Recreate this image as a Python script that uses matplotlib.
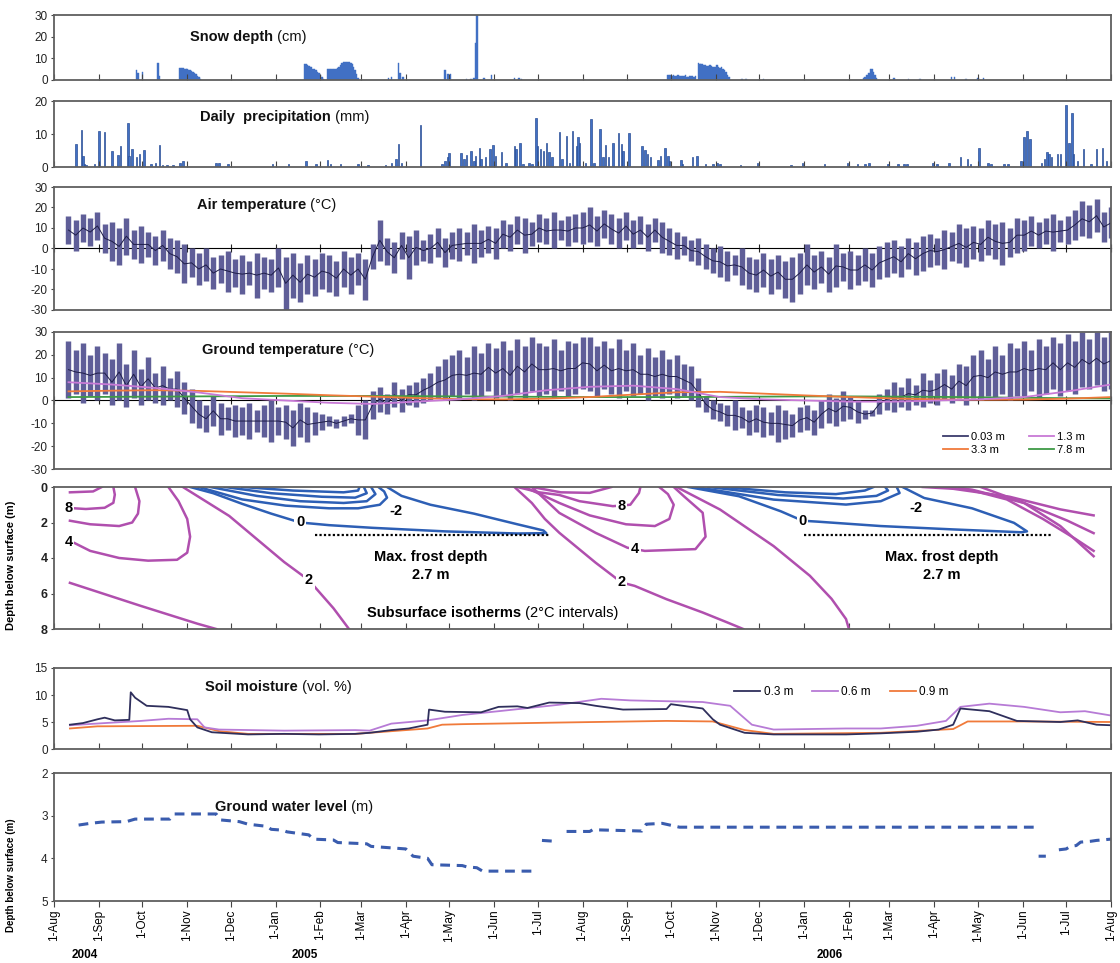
import datetime as dt
import numpy as np
import matplotlib
matplotlib.use("Agg")
import matplotlib.pyplot as plt
import matplotlib.dates as mdates
from matplotlib.lines import Line2D
from matplotlib.ticker import FixedLocator, FuncFormatter, NullFormatter

plt.rcParams['font.family'] = ['Liberation Sans', 'DejaVu Sans']
plt.rcParams['axes.unicode_minus'] = False

# all series are given as day offsets from 1-Aug-2004
# snow depth (cm): single days and short continuous blocks
snow_single = [(57, 4.7), (58, 3), (61, 3.5), (72, 8), (73, 2), (231, 0.8), (233, 1.2),
               (238, 8), (239, 3), (241, 1.2), (270, 4.5), (272, 2.8), (274, 2.8),
               (285, 0.5), (288, 0.6), (290, 0.8), (291, 17), (292, 30), (297, 1),
               (302, 2.5), (318, 0.8), (321, 0.8), (323, 0.6), (475, 0.6), (478, 0.5),
               (490, 0.5), (580, 1), (590, 0.6), (598, 0.5), (608, 0.6), (620, 1.5),
               (622, 1.2), (630, 0.6), (638, 0.8), (642, 0.8)]
snow_blocks = [
    (87, [5.5, 5.5, 5.4, 5.3, 5.2, 5, 4.8, 4.5, 4.2, 3.8, 3.3, 2.7, 2, 1.2, 0.5]),
    (173, [7.5, 7.3, 7, 6.6, 6.2, 5.8, 5.3, 4.9, 4.4, 3.9, 3.2, 2.4, 1.5, 0.6]),
    (189, [5, 5, 5, 5, 5, 5.1, 5.3, 5.6, 6.2, 7, 7.8, 8.3, 8.5, 8.5, 8.5, 8.4, 8, 7.2,
           6, 4.5, 2.8, 1]),
    (424, [2.3, 2.5, 2.2, 2, 2.1, 1.8, 2, 2.2, 1.9, 1.7, 2, 1.8, 2.1, 1.6, 1.5, 1.8, 2,
           1.7, 1.5, 2]),
    (445, [8, 7.5, 7.2, 7.3, 7, 6.8, 6.5, 6.5, 7, 6.3, 6, 6, 6.2, 6.8, 6, 5.5, 5.8, 5.2,
           4.5, 3.5, 2.5, 1.2]),
    (559, [1, 1.5, 2.5, 2.2, 3, 5, 5.2, 3.5, 2.5, 1]),
]

# daily precipitation (mm)
precip = [(15, 7), (19, 11.2), (20, 3.4), (21, 0.8), (22, 0.5), (28, 0.8), (31, 11),
          (35, 10.7), (40, 4.9), (44, 3.5), (46, 6.5), (51, 13.4), (52, 3.4), (54, 5.4),
          (57, 2.9), (59, 3.9), (62, 5.1), (67, 0.8), (70, 1.3), (73, 6.6), (75, 0.5),
          (78, 0.5), (82, 0.5), (87, 1.3), (89, 1.8), (112, 1.1), (114, 1.1), (120, 0.8),
          (151, 0.8), (162, 0.8), (174, 1.8), (181, 0.8), (189, 2), (191, 0.8), (198, 0.8),
          (210, 0.8), (217, 0.5), (229, 0.5), (233, 1.3), (236, 2.3), (238, 7), (240, 1.3),
          (253, 12.8), (268, 0.8), (270, 1.8), (272, 2.9), (273, 4.2), (281, 4.1),
          (283, 2.3), (285, 3.6), (288, 4.9), (290, 1.8), (291, 3.4), (294, 5.9),
          (295, 2.3), (298, 2.9), (301, 5.4), (303, 6.6), (305, 3.4), (309, 4.4),
          (312, 1.3), (318, 6.4), (319, 5.4), (322, 7.2), (324, 0.8), (328, 1.3),
          (330, 0.8), (333, 14.8), (334, 6.4), (336, 5.4), (338, 4.9), (340, 7.2),
          (342, 4.4), (344, 2.9), (349, 10.5), (351, 2.3), (354, 9.3), (356, 1.3),
          (358, 11), (361, 6.4), (362, 9), (363, 7.4), (367, 1.3), (371, 14.4), (373, 1.3),
          (377, 11.5), (379, 2.9), (381, 6.7), (383, 2.9), (386, 7.4), (390, 10.2),
          (392, 6.9), (393, 4.9), (397, 10.2), (406, 6.4), (408, 5.2), (410, 3.9),
          (412, 2.9), (417, 2.1), (419, 3.4), (422, 5.9), (424, 3.4), (425, 1.8), (433, 2),
          (434, 0.8), (441, 2.9), (444, 3.2), (450, 0.8), (455, 0.8), (458, 1.3),
          (460, 0.8), (474, 0.5), (486, 1.3), (509, 0.5), (517, 1.3), (532, 0.8),
          (548, 1.3), (555, 0.8), (560, 0.8), (563, 1.3), (576, 1), (583, 0.8), (587, 1),
          (589, 1), (607, 1.3), (610, 1), (618, 1.3), (626, 2.9), (631, 2.3), (633, 1),
          (639, 5.7), (645, 1.3), (647, 1), (656, 0.8), (659, 0.8), (668, 1.8), (670, 9),
          (672, 11), (674, 8.5), (682, 1.3), (684, 2.3), (686, 4.4), (687, 3.9),
          (689, 2.9), (693, 3.9), (695, 3.9), (699, 18.7), (701, 7.2), (703, 16.4),
          (704, 3.9), (707, 1.8), (711, 5.6), (716, 0.8), (720, 5.6), (724, 5.9),
          (727, 1.8)]

# temperatures every 5 days from day 10 to day 730: daily max / min
temp_day = list(range(10, 731, 5))
air_hi = [16, 14, 17, 15, 18, 12, 13, 10, 15, 9, 11, 8, 6, 9, 5, 4, 2, 0,
          -2, 0, -4, -3, -1, -5, -3, -6, -2, -4, -5, 0, -4, -2, -7, -3, -5, -2,
          -3, -6, -1, -4, -2, -5, 2, 14, 5, 3, 8, 6, 9, 4, 7, 10, 5, 8,
          10, 8, 12, 9, 11, 10, 14, 12, 16, 15, 13, 17, 15, 18, 14, 16, 17, 18,
          20, 16, 19, 17, 15, 18, 14, 16, 12, 15, 13, 10, 8, 6, 4, 5, 2, 0,
          1, -1, -3, 0, -4, -5, -2, -5, -3, -6, -4, -2, 2, -3, -1, -4, 2, -2,
          -1, -3, 0, -2, 1, 3, 4, 1, 5, 3, 6, 7, 5, 9, 8, 12, 10, 11,
          10, 14, 12, 13, 10, 15, 14, 16, 13, 15, 17, 14, 16, 19, 23, 21, 24, 18, 20]
air_lo = [2, -1, 3, 1, 4, -2, -6, -8, -3, -5, -7, -4, -8, -6, -10, -12, -17, -14,
          -18, -16, -20, -17, -21, -19, -22, -18, -24, -20, -21, -19, -30, -24, -26, -22, -23, -20,
          -21, -23, -19, -22, -18, -25, -10, -6, -8, -12, -5, -15, -8, -6, -7, -4, -9, -5,
          -6, -3, -7, -4, -2, -5, 0, -1, 2, -2, 1, 3, 2, 0, 4, 1, 3, 2,
          3, 1, 5, 2, 0, 4, 0, 2, -1, 3, -2, -3, -5, -3, -6, -8, -10, -12,
          -14, -16, -13, -18, -20, -21, -19, -22, -20, -24, -26, -22, -18, -20, -17, -21, -19, -16,
          -20, -18, -16, -19, -15, -14, -12, -14, -10, -13, -11, -9, -8, -10, -6, -7, -9, -5,
          -6, -3, -5, -8, -4, -2, -1, 1, 0, 2, -1, 3, 2, 4, 6, 5, 8, 3, 5]
ground_hi = [26, 22, 25, 20, 24, 21, 18, 25, 16, 22, 14, 19, 12, 15, 10, 13, 8, 5,
             0, -2, 2, -1, -3, -2, -3, -1, -4, -2, 0, -3, -2, -4, -1, -3, -5, -6,
             -7, -8, -7, -6, -2, 0, 4, 6, 3, 8, 5, 7, 8, 10, 12, 15, 18, 20,
             22, 19, 24, 21, 25, 23, 26, 22, 27, 24, 28, 25, 24, 27, 22, 26, 25, 28,
             28, 24, 26, 23, 27, 22, 25, 20, 23, 19, 22, 18, 20, 16, 15, 10, 2, 0,
             -1, -2, 0, -3, -4, -2, -3, -5, -2, -4, -6, -3, -2, -4, 0, 3, 1, 4,
             2, 0, -4, -4, 3, 5, 8, 6, 10, 7, 12, 9, 12, 14, 11, 16, 15, 20,
             22, 18, 24, 20, 25, 23, 26, 22, 27, 24, 28, 25, 29, 26, 30, 27, 30, 28, 30]
ground_lo = [1, 3, -1, 2, 0, 3, -2, 0, -3, 1, -2, 0, -1, -2, 0, -3, -6, -10,
             -12, -14, -11, -15, -13, -16, -15, -17, -14, -16, -18, -15, -17, -20, -16, -18, -15, -13,
             -11, -12, -11, -10, -15, -17, -8, -5, -6, -3, -5, -2, -3, -1, 0, 1, 0, 2,
             1, 3, 0, 2, 4, 1, 2, 0, 3, 1, 4, 2, 3, 1, 4, 2, 3, 5,
             4, 2, 5, 3, 1, 4, 2, 3, 0, 2, 1, 3, 1, 2, 0, -3, -5, -8,
             -9, -11, -13, -12, -15, -14, -16, -15, -18, -17, -16, -14, -13, -15, -12, -10, -11, -9,
             -8, -10, -8, -7, -6, -4, -5, -3, -4, -2, -3, -1, -2, 0, -1, 1, -2, 1,
             0, 2, 1, 3, 0, 2, 2, 4, 1, 3, 5, 2, 4, 3, 6, 5, 7, 4, 5]

# deeper ground temperatures, monthly readings
deep_day = [10, 40, 70, 100, 130, 160, 190, 220, 250, 280, 310, 340, 370, 400, 430,
            460, 490, 520, 550, 580, 610, 640, 670, 700, 730]
t_1_3 = [8, 7, 5.5, 3.5, 1, 0, -1, -1.5, -0.5, 0.5, 2, 4.5, 6, 6.5, 5, 1.5, 0.5, 0,
         -0.5, -0.5, 0, 0.5, 1.5, 4, 7]
t_3_3 = [4, 4.3, 4.5, 4.2, 3.6, 3, 2.3, 1.7, 1.1, 0.6, 0.5, 0.8, 1.5, 2.6, 3.6, 3.8,
         3, 2.2, 1.5, 0.9, 0.5, 0.3, 0.4, 0.8, 1.5]
t_7_8 = [1.5, 1.6, 1.7, 1.8, 1.9, 2, 2, 2, 1.9, 1.8, 1.7, 1.6, 1.5, 1.5, 1.5, 1.6,
         1.7, 1.8, 1.8, 1.7, 1.6, 1.4, 1.2, 1.0, 0.9]

# subsurface isotherms (day, depth in m)
iso10_a_day, iso10_a_dep = [11, 27, 33], [0.3, 0.25, 0]
iso8_a_day, iso8_a_dep = [14, 22, 35, 41, 42, 41], [1.2, 1.24, 1.17, 0.89, 0.43, 0]
iso6_a_day, iso6_a_dep = [11, 25, 45, 54, 58, 59, 56], [1.9, 2.1, 2.2, 2.0, 1.5, 0.8, 0]
iso4_a_day, iso4_a_dep = [14, 25, 45, 65, 85, 92, 94, 92, 86, 79], [3.15, 3.6, 4.0, 4.15, 4.1, 3.7, 2.8, 1.8, 0.8, 0]
iso2_a_day, iso2_a_dep = [89, 121, 159, 176, 193, 204], [0, 1.63, 4.23, 5.25, 6.83, 8.03]
iso2_b_day, iso2_b_dep = [11, 60, 99, 112], [5.4, 6.7, 7.7, 8.0]
iso0_a_day = [94, 110, 130, 150, 170, 190, 220, 270, 320, 340, 338, 320, 290, 260, 240, 230]
iso0_a_dep = [0, 0.35, 0.95, 1.5, 2.0, 2.15, 2.3, 2.5, 2.62, 2.6, 2.45, 2.1, 1.5, 1.0, 0.5, 0]
isom2_a_day, isom2_a_dep = [100, 130, 160, 190, 210, 225, 230, 228, 224], [0, 0.7, 1.05, 1.2, 1.2, 1.0, 0.6, 0.25, 0]
isom4_a_day, isom4_a_dep = [108, 140, 170, 200, 216, 222, 219], [0, 0.5, 0.8, 0.9, 0.8, 0.4, 0]
isom6_a_day, isom6_a_dep = [118, 150, 185, 208, 216, 214], [0, 0.35, 0.55, 0.6, 0.35, 0]
isom8_a_day, isom8_a_dep = [130, 165, 200, 210, 211], [0, 0.2, 0.3, 0.2, 0]
iso10_b_day, iso10_b_dep = [330, 350, 370, 385], [0, 0.3, 0.33, 0]
iso8_b_day, iso8_b_dep = [320, 335, 349, 363, 386, 398, 404, 405], [0, 0.3, 0.45, 0.8, 1.08, 1.0, 0.34, 0]
iso6_b_day, iso6_b_dep = [325, 349, 370, 395, 415, 425, 428, 424, 418], [0, 0.9, 1.6, 2.1, 2.2, 1.8, 1.0, 0.4, 0]
iso4_b_day, iso4_b_dep = [330, 349, 374, 396, 408, 443, 450, 448, 435, 428], [0, 1.46, 2.58, 3.42, 3.6, 3.5, 2.8, 1.45, 0.52, 0]
iso2_c_day = [318, 330, 339, 349, 374, 392, 401, 423, 448, 465, 476]
iso2_c_dep = [0, 0.9, 1.8, 2.58, 4.26, 5.38, 5.57, 6.32, 7.07, 7.63, 8.0]
iso2_d_day, iso2_d_dep = [430, 460, 497, 522, 537, 547, 549], [0, 1.27, 3.33, 5.0, 6.3, 7.44, 8.0]
iso0_b_day = [438, 473, 502, 517, 527, 571, 621, 668, 672, 663, 634, 601, 586]
iso0_b_dep = [0, 0.52, 1.37, 1.9, 1.95, 2.2, 2.39, 2.55, 2.5, 2.02, 1.2, 0.62, 0]
isom2_b_day, isom2_b_dep = [443, 497, 547, 571, 584, 582], [0, 0.71, 0.99, 0.8, 0.34, 0]
isom4_b_day, isom4_b_dep = [452, 500, 545, 568, 576, 574], [0, 0.45, 0.65, 0.5, 0.2, 0]
isom6_b_day, isom6_b_dep = [462, 505, 540, 560, 566], [0, 0.3, 0.4, 0.2, 0]
iso2_e_day, iso2_e_dep = [600, 621, 660, 695, 718], [0, 0.1, 0.55, 1.26, 1.6]
iso4_e_day, iso4_e_dep = [612, 634, 670, 700, 718], [0, 0.15, 0.9, 1.9, 2.6]
iso6_e_day, iso6_e_dep = [625, 658, 683, 705, 718], [0, 0.7, 1.8, 2.9, 3.6]
iso8_e_day, iso8_e_dep = [640, 670, 695, 718], [0, 0.9, 2.2, 3.9]
frost_depth = 2.7
frost_span_a = (180, 342)
frost_span_b = (518, 689)

# soil moisture (vol. %)
sm03_day = [11, 20, 30, 35, 42, 52, 53, 56, 64, 79, 92, 94, 99, 109, 134, 159, 183, 208,
            218, 233, 245, 258, 259, 270, 295, 307, 320, 327, 342, 363, 374, 393, 423, 426,
            448, 455, 460, 477, 497, 547, 571, 596, 611, 621, 626, 646, 665, 695, 707, 720, 730]
sm03_val = [4.5, 4.8, 5.5, 5.8, 5.3, 5.4, 10.5, 9.5, 8, 7.8, 7.2, 5.5, 4, 3.1, 2.7, 2.8, 2.7,
            2.8, 3, 3.5, 3.8, 4.5, 7.3, 6.9, 6.8, 7.8, 7.9, 7.6, 8.6, 8.5, 8, 7.3, 7.4, 8.3,
            7.5, 5.5, 4.5, 3, 2.7, 2.7, 2.9, 3.2, 3.6, 4.5, 7.5, 7, 5.2, 5, 5.3, 4.5, 4.4]
sm06_day = [11, 35, 60, 79, 99, 104, 114, 159, 208, 218, 233, 258, 282, 307, 349, 378, 398,
            448, 467, 482, 497, 547, 571, 596, 616, 626, 646, 670, 695, 712, 730]
sm06_val = [4.4, 4.8, 5.2, 5.6, 5.5, 4, 3.6, 3.4, 3.5, 3.4, 4.7, 5.3, 6.3, 7, 8.2, 9.3, 9,
            8.7, 8, 4.5, 3.6, 3.8, 3.8, 4.3, 5.2, 7.8, 8.4, 7.8, 6.8, 7, 6.2]
sm09_day = [11, 30, 99, 114, 134, 208, 233, 258, 268, 282, 349, 423, 455, 477, 497, 571,
            621, 631, 670, 730]
sm09_val = [3.8, 4.2, 4.3, 3.3, 2.8, 2.8, 3.3, 3.8, 4.5, 4.6, 4.9, 5.2, 5.1, 3.5, 2.8, 3,
            3.7, 5.1, 5.1, 5.0]

# ground water level (m below surface), None = no record
gw_day = [17, 25, 33, 50, 56, 80, 83, 112, 115, 128, 134, 147, 150, 158, 161, 176, 179, 193,
          196, 216, 219, 243, 248, 258, 261, 282, 285, 292, 296, 334, None, 337, 346, None,
          354, 370, 372, 406, 409, 420, 432, 678, None, 680, 685, None, 694, 699, 702, 706,
          709, 716, 720, 730]
gw_val = [3.22, 3.18, 3.15, 3.14, 3.08, 3.08, 2.96, 2.96, 3.1, 3.14, 3.2, 3.25, 3.32, 3.34,
          3.38, 3.45, 3.55, 3.57, 3.63, 3.66, 3.72, 3.78, 3.95, 4.0, 4.15, 4.17, 4.2, 4.22,
          4.3, 4.3, None, 3.58, 3.6, None, 3.37, 3.37, 3.33, 3.36, 3.2, 3.18, 3.27, 3.27,
          None, 3.95, 3.95, None, 3.8, 3.78, 3.72, 3.7, 3.62, 3.6, 3.58, 3.55]

year_labels = [(21, '2004'), (173, '2005'), (536, '2006')]

# ---------------------------------------------------------------------------
T0 = mdates.date2num(dt.datetime(2004, 8, 1))
T1 = mdates.date2num(dt.datetime(2006, 8, 1))


def X(days):
    return T0 + np.array([np.nan if d is None else d for d in days], dtype=float)


def Y(vals):
    return np.array([np.nan if v is None else v for v in vals], dtype=float)


month_ticks = [mdates.date2num(dt.datetime(2004 + (7 + i) // 12, (7 + i) % 12 + 1, 1)) for i in range(25)]

W, H = 1120, 963
fig = plt.figure(figsize=(W / 100, H / 100), dpi=100)
LEFT, RIGHT = 54, 1111
FRAME = '#5f5f5f'


def panel(top, bottom):
    ax = fig.add_axes([LEFT / W, 1 - bottom / H, (RIGHT - LEFT) / W, (bottom - top) / H])
    ax.set_xlim(T0, T1)
    for s in ax.spines.values():
        s.set_color(FRAME)
        s.set_linewidth(1.3)
    ax.xaxis.set_major_locator(FixedLocator(month_ticks))
    ax.xaxis.set_major_formatter(NullFormatter())
    ax.tick_params(axis='x', direction='in', length=4, color='#444444')
    ax.tick_params(axis='y', direction='out', length=2.5, color='#444444', labelsize=8.5,
                   labelcolor='#222222', pad=2)
    return ax


def title(ax, x, y, bold, normal, size=10.5):
    t = fig.text(x / W, 1 - y / H, bold, fontsize=size, fontweight='bold', va='center', color='#111111')
    ax.annotate(normal, xy=(1, 0.5), xycoords=t, va='center', ha='left', fontsize=size, color='#111111')


blue = '#4170c4'
edge = '#2b4f96'

# snow depth
ax = panel(15, 80)
sd = [d for d, v in snow_single]
sv = [v for d, v in snow_single]
for start, vals in snow_blocks:
    sd += [start + i for i in range(len(vals))]
    sv += vals
ax.bar(X(sd), sv, width=1.05, color=blue, edgecolor=blue, linewidth=0.3)
ax.set_ylim(0, 30)
ax.set_yticks([0, 10, 20, 30])
title(ax, 190, 37, 'Snow depth', ' (cm)')

# precipitation
ax = panel(101, 167)
ax.bar(X([d for d, v in precip]), [v for d, v in precip], width=1.1, color=blue,
       edgecolor=edge, linewidth=0.5)
ax.set_ylim(0, 20)
ax.set_yticks([0, 10, 20])
title(ax, 200, 117, 'Daily  precipitation', ' (mm)')


def temp_panel(top, bottom, hi, lo):
    ax = panel(top, bottom)
    x = X(temp_day)
    hi = np.array(hi, float)
    lo = np.array(lo, float)
    ax.vlines(x, lo, hi, color='#5f5e98', lw=3.9)
    ax.plot(x, (hi + lo) / 2, color='#1e1d48', lw=0.7)
    ax.set_ylim(-30, 30)
    ax.set_yticks(range(-30, 31, 10))
    ax.tick_params(axis='x', length=0)
    sec = ax.secondary_xaxis(0.5)
    sec.xaxis.set_major_locator(FixedLocator(month_ticks))
    sec.xaxis.set_major_formatter(NullFormatter())
    sec.tick_params(direction='inout', length=6, color='#222222')
    sec.spines['bottom'].set_color('#222222')
    sec.spines['bottom'].set_linewidth(1.2)
    return ax


ax = temp_panel(187, 310, air_hi, air_lo)
title(ax, 197, 205, 'Air temperature', ' (°C)')

ax = temp_panel(332, 469, ground_hi, ground_lo)
ax.plot(X(deep_day), t_7_8, color='#3e9a45', lw=1.3)
ax.plot(X(deep_day), t_3_3, color='#f07a3a', lw=1.3)
ax.plot(X(deep_day), t_1_3, color='#c87ad6', lw=1.3)
title(ax, 202, 350, 'Ground temperature', ' (°C)')
hnd = [Line2D([], [], color='#3c3c6c', lw=1.3), Line2D([], [], color='#f07a3a', lw=1.3),
       Line2D([], [], color='#c87ad6', lw=1.3), Line2D([], [], color='#3e9a45', lw=1.3)]
ax.legend(hnd, ['0.03 m', '3.3 m', '1.3 m', '7.8 m'], ncol=2, loc='lower right',
          bbox_to_anchor=(0.985, 0.03), frameon=False, fontsize=8, handlelength=2.2,
          columnspacing=2.2, handletextpad=0.3, labelspacing=0.3)

# subsurface isotherms
ax = panel(487, 629)
ax.set_ylim(8, 0)
ax.set_yticks([0, 2, 4, 6, 8])
for lab in ax.get_yticklabels():
    lab.set_fontweight('bold')
    lab.set_fontsize(9)
pink = '#b04fae'
dblue = '#2d5fb5'
warm = [(iso10_a_day, iso10_a_dep), (iso8_a_day, iso8_a_dep), (iso6_a_day, iso6_a_dep),
        (iso4_a_day, iso4_a_dep), (iso2_a_day, iso2_a_dep), (iso2_b_day, iso2_b_dep),
        (iso10_b_day, iso10_b_dep), (iso8_b_day, iso8_b_dep), (iso6_b_day, iso6_b_dep),
        (iso4_b_day, iso4_b_dep), (iso2_c_day, iso2_c_dep), (iso2_d_day, iso2_d_dep),
        (iso2_e_day, iso2_e_dep), (iso4_e_day, iso4_e_dep), (iso6_e_day, iso6_e_dep),
        (iso8_e_day, iso8_e_dep)]
cold = [(iso0_a_day, iso0_a_dep), (isom2_a_day, isom2_a_dep), (isom4_a_day, isom4_a_dep),
        (isom6_a_day, isom6_a_dep), (isom8_a_day, isom8_a_dep), (iso0_b_day, iso0_b_dep),
        (isom2_b_day, isom2_b_dep), (isom4_b_day, isom4_b_dep), (isom6_b_day, isom6_b_dep)]
for d, z in warm:
    ax.plot(X(d), z, color=pink, lw=1.8)
for d, z in cold:
    ax.plot(X(d), z, color=dblue, lw=1.8)
for d, z, s in [(10, 1.17, '8'), (10, 3.12, '4'), (176, 5.25, '2'), (170, 1.95, '0'),
                (236, 1.35, '-2'), (392, 1.08, '8'), (401, 3.51, '4'), (392, 5.38, '2'),
                (517, 1.93, '0'), (595, 1.18, '-2')]:
    ax.text(T0 + d, z, s, fontsize=10.5, fontweight='bold', ha='center', va='center',
            bbox=dict(boxstyle='square,pad=0.12', fc='white', ec='none'))
for a, b in [frost_span_a, frost_span_b]:
    ax.plot([T0 + a, T0 + b], [frost_depth, frost_depth], color='black', lw=1.6, ls=(0, (1, 1)))
for d in [260, 613]:
    ax.text(T0 + d, 4.45, 'Max. frost depth\n%.1f m' % frost_depth, fontsize=10.5,
            fontweight='bold', ha='center', va='center', linespacing=1.35)
t = ax.text(T0 + 216, 7.1, 'Subsurface isotherms', fontsize=10.5, fontweight='bold', va='center')
ax.annotate(' (2°C intervals)', xy=(1, 0.5), xycoords=t, va='center', ha='left', fontsize=10.5)
ax.set_ylabel('Depth below surface (m)', fontsize=8, fontweight='bold')
ax.yaxis.set_label_coords(-0.036, 0.45)

# soil moisture
ax = panel(668, 749)
ax.plot(X(sm09_day), sm09_val, color='#f07a3a', lw=1.3, label='0.9 m')
ax.plot(X(sm06_day), sm06_val, color='#b77bd6', lw=1.3, label='0.6 m')
ax.plot(X(sm03_day), sm03_val, color='#2f2f5c', lw=1.3, label='0.3 m')
ax.set_ylim(0, 15)
ax.set_yticks([0, 5, 10, 15])
h, l = ax.get_legend_handles_labels()
ax.legend(h[::-1], l[::-1], ncol=3, loc='center', bbox_to_anchor=(0.745, 0.7), frameon=False,
          fontsize=8.5, handlelength=2.2, columnspacing=1.6, handletextpad=0.3)
title(ax, 205, 687, 'Soil moisture', ' (vol. %)')

# ground water level
ax = panel(773, 901)
ax.plot(X(gw_day), Y(gw_val), color='#3a5cae', lw=2.2, ls=(0, (3.2, 2.2)))
ax.set_ylim(5, 2)
ax.set_yticks([2, 3, 4, 5])
ax.tick_params(axis='x', direction='out', length=4, labelsize=8.5, labelrotation=90, pad=2)
ax.xaxis.set_major_formatter(FuncFormatter(lambda v, p: '1-' + mdates.num2date(v).strftime('%b')))
ax.set_ylabel('Depth below surface (m)', fontsize=7, fontweight='bold')
ax.yaxis.set_label_coords(-0.036, 0.2)
title(ax, 215, 807, 'Ground water level', ' (m)')
for d, s in year_labels:
    ax.text(T0 + d, -0.42, s, transform=ax.get_xaxis_transform(), fontsize=8.5,
            fontweight='bold', ha='center', va='center')

fig.savefig('out.png', dpi=100)
